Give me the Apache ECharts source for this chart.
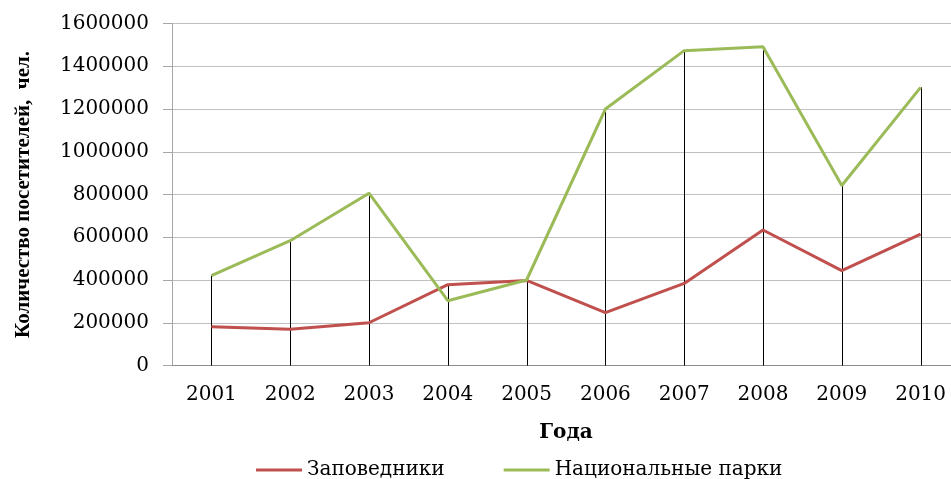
<!DOCTYPE html>
<html>
<head>
<meta charset="utf-8">
<script src="https://cdn.jsdelivr.net/npm/echarts@6/dist/echarts.min.js"></script>
<style>
  html, body {margin: 0; padding: 0; background: #fff;}
  #main {width: 951px; height: 479px;}
</style>
</head>
<body>
<div id="main"></div>
<script>
  // данные
  const years = ['2001', '2002', '2003', '2004', '2005', '2006', '2007', '2008', '2009', '2010'];
  const zapovedniki = [181000, 170000, 200000, 378000, 398000, 247000, 384000, 634000, 444000, 615000];
  const natsParki = [420000, 584000, 806000, 303000, 400000, 1200000, 1473000, 1491000, 842000, 1301000];
  const yTicks = [0, 200000, 400000, 600000, 800000, 1000000, 1200000, 1400000, 1600000];

  // вертикальные линии от большего значения до оси
  const dropData = years.map(function (y, i) {
    return [i, Math.max(zapovedniki[i], natsParki[i])];
  });

  const serif = 'DejaVu Serif';
  const chart = echarts.init(document.getElementById('main'));
  chart.setOption({
    animation: false,
    grid: {left: 172, top: 23.5, width: 788, height: 342, outerBoundsMode: 'none', containLabel: false},
    legend: {
      data: ['Заповедники', 'Национальные парки'],
      left: 251,
      top: 455,
      icon: 'rect',
      itemWidth: 46,
      itemHeight: 3,
      itemGap: 59,
      textStyle: {fontFamily: serif, fontSize: 20, color: '#000'}
    },
    xAxis: {
      type: 'category',
      data: years,
      name: 'Года',
      nameLocation: 'middle',
      nameGap: 57,
      nameTextStyle: {fontFamily: serif, fontWeight: 'bold', fontSize: 20, color: '#000'},
      axisLine: {lineStyle: {color: '#8c8c8c', width: 1}},
      axisTick: {show: false},
      axisLabel: {fontFamily: serif, fontSize: 20, color: '#000', margin: 19},
      splitLine: {show: false}
    },
    yAxis: {
      type: 'value',
      min: yTicks[0],
      max: yTicks[yTicks.length - 1],
      interval: yTicks[1] - yTicks[0],
      name: 'Количество посетителей,  чел.',
      nameLocation: 'middle',
      nameRotate: 90,
      nameGap: 138,
      nameTextStyle: {fontFamily: 'Liberation Serif', fontWeight: 'bold', fontSize: 21, color: '#000'},
      axisLine: {show: true, lineStyle: {color: '#a6a6a6', width: 1}},
      axisTick: {show: true, length: 9, lineStyle: {color: '#a6a6a6'}},
      axisLabel: {
        fontFamily: serif, fontSize: 20, color: '#000', margin: 23,
        formatter: function (v) { return String(v); }
      },
      splitLine: {lineStyle: {color: '#c0c0c0', width: 1}}
    },
    series: [
      {
        name: 'drop',
        type: 'custom',
        data: dropData,
        z: 1,
        silent: true,
        renderItem: function (params, api) {
          const top = api.coord([api.value(0), api.value(1)]);
          const bottom = api.coord([api.value(0), 0]);
          const x = Math.round(top[0]) + 0.5;
          return {
            type: 'line',
            shape: {x1: x, y1: top[1], x2: x, y2: bottom[1]},
            style: {stroke: '#000', lineWidth: 1}
          };
        }
      },
      {
        name: 'Заповедники',
        type: 'line',
        data: zapovedniki,
        symbol: 'none',
        z: 3,
        lineStyle: {color: '#c0504d', width: 3},
        itemStyle: {color: '#c0504d'}
      },
      {
        name: 'Национальные парки',
        type: 'line',
        data: natsParki,
        symbol: 'none',
        z: 3,
        lineStyle: {color: '#9bbb59', width: 3},
        itemStyle: {color: '#9bbb59'}
      }
    ]
  });
</script>
</body>
</html>
